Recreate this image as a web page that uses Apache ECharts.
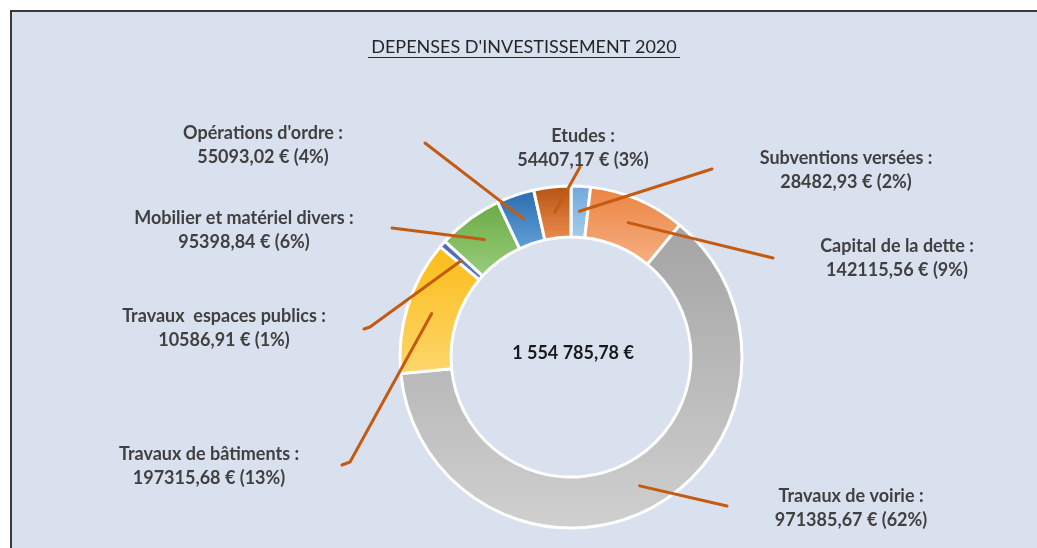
<!DOCTYPE html>
<html>
<head>
<meta charset="utf-8">
<script src="https://cdn.jsdelivr.net/npm/echarts@6/dist/echarts.min.js"></script>
<style>
  html, body { margin: 0; padding: 0; background: #fff; }
  #panel {
    position: absolute; left: 10px; top: 10px; width: 1027px; height: 538px;
    background: #dae1ee; border-left: 2px solid #3a3a3a; border-top: 2px solid #3a3a3a;
    box-sizing: border-box;
  }
  #chart { position: absolute; left: 0; top: 0; width: 1037px; height: 548px; }
</style>
</head>
<body>
<div id="panel"></div>
<div id="chart"></div>
<script>
const chartTitle = "DEPENSES D'INVESTISSEMENT 2020"
const categories = [
  'Subventions versées',
  'Capital de la dette',
  'Travaux de voirie',
  'Travaux de bâtiments',
  'Travaux  espaces publics',
  'Mobilier et matériel divers',
  "Opérations d'ordre",
  'Etudes'
]
const amounts = [28482.93, 142115.56, 971385.67, 197315.68, 10586.91, 95398.84, 55093.02, 54407.17]

// slice colours : top / bottom of the excel-like gradient
const colorsTop = ['#6ea7dc', '#ec8341', '#a4a4a4', '#fbbc16', '#4668b8', '#69aa43', '#2b6bae', '#b55213']
const colorsBottom = ['#a8ccee', '#f5b183', '#d0d0d0', '#fdd66c', '#5a7cc8', '#9acd7c', '#62a0d9', '#ec8d4e']

// where the labels sit (centre of the 2-line block) and where the leader lines end
const labelPos = [[846, 170], [897, 258], [851, 508], [209, 466], [224, 328], [244, 230], [263, 145], [583, 148]]
const lineEnds = [
  [[712, 169]],
  [[773, 258]],
  [[727, 506]],
  [[350, 462], [342, 465]],
  [[370, 327], [364, 329]],
  [[392, 228]],
  [[425, 143]],
  [[580, 167]]
]

const total = amounts.reduce((a, b) => a + b, 0)

const frNum = (v) => v.toFixed(2).replace('.', ',')
const frTotal = (v) => {
  const parts = v.toFixed(2).split('.')
  return parts[0].replace(/\B(?=(\d{3})+(?!\d))/g, ' ') + ',' + parts[1]
}

const pieData = categories.map((name, i) => ({
  name,
  value: amounts[i],
  itemStyle: {
    color: new echarts.graphic.LinearGradient(0, 0, 0, 1, [
      { offset: 0, color: colorsTop[i] },
      { offset: 1, color: colorsBottom[i] }
    ])
  }
}))

const center = [571, 357]
const fontFam = 'Lato, "Open Sans", sans-serif'

const myChart = echarts.init(document.getElementById('chart'))

const option = {
  backgroundColor: 'transparent',
  animation: false,
  graphic: [
    {
      type: 'text',
      x: 524,
      y: 47,
      style: {
        text: chartTitle,
        font: '18px ' + fontFam,
        fill: '#262626',
        align: 'center',
        verticalAlign: 'middle'
      }
    },
    {
      type: 'line',
      shape: { x1: 368, y1: 57.5, x2: 680, y2: 57.5 },
      style: { stroke: '#262626', lineWidth: 1 }
    },
    {
      type: 'text',
      x: center[0] + 2,
      y: center[1] - 4,
      style: {
        text: frTotal(total) + ' €',
        font: 'bold 18px ' + fontFam,
        fill: '#1a1a1a',
        align: 'center',
        verticalAlign: 'middle'
      },
      z: 10
    }
  ],
  series: [
    {
      type: 'pie',
      radius: [120, 171],
      center,
      startAngle: 90,
      clockwise: true,
      silent: true,
      label: { show: false },
      labelLine: { show: false },
      itemStyle: { borderColor: '#ffffff', borderWidth: 3 },
      data: pieData
    },
    {
      // invisible pie reaching mid-ring: carries the labels and leader lines
      type: 'pie',
      radius: [0, 146],
      center,
      startAngle: 90,
      clockwise: true,
      silent: true,
      z: 5,
      avoidLabelOverlap: false,
      itemStyle: { color: 'rgba(0,0,0,0)' },
      label: {
        show: true,
        position: 'outside',
        formatter: (p) => p.name + ' :\n' + frNum(p.value) + ' € (' + Math.round(p.value / total * 100) + '%)',
        color: '#404040',
        fontFamily: fontFam,
        fontWeight: 'bold',
        fontSize: 18,
        lineHeight: 24,
        align: 'center'
      },
      labelLine: {
        show: true,
        lineStyle: { color: '#c55a11', width: 3, cap: 'round', join: 'round' }
      },
      labelLayout: (params) => {
        const i = params.dataIndex
        const start = params.labelLinePoints ? params.labelLinePoints[0] : center
        return {
          x: labelPos[i][0],
          y: labelPos[i][1],
          align: 'center',
          verticalAlign: 'middle',
          labelLinePoints: [start].concat(lineEnds[i])
        }
      },
      data: categories.map((name, i) => ({ name, value: amounts[i] }))
    }
  ]
}

myChart.setOption(option)
</script>
</body>
</html>
